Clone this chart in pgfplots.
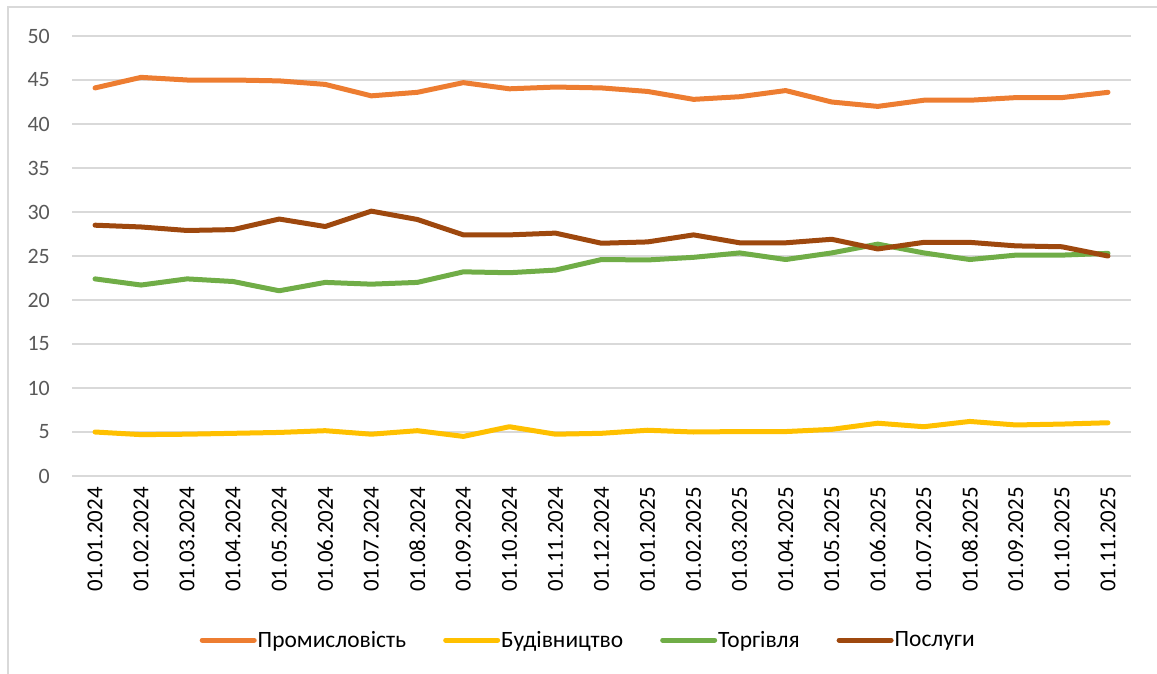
\documentclass[border=0pt]{standalone}
\usepackage{pgfplots}
\pgfplotsset{compat=1.18}
\usepackage{pgfplotstable}
\usepackage{fontspec}
\setmainfont{Carlito}
\definecolor{cOr}{HTML}{ED7D31}
\definecolor{cYe}{HTML}{FFC000}
\definecolor{cGr}{HTML}{70AD47}
\definecolor{cBr}{HTML}{9E480E}
\definecolor{cGrid}{HTML}{D9D9D9}
\definecolor{cTick}{HTML}{595959}

\pgfplotstableread{
x prom bud torg posl
0  44.1 5.0  22.4  28.5
1  45.3 4.7  21.7  28.3
2  45.0 4.75 22.4  27.9
3  45.0 4.85 22.1  28.0
4  44.9 4.95 21.05 29.2
5  44.5 5.15 22.0  28.35
6  43.2 4.75 21.8  30.1
7  43.6 5.15 22.0  29.15
8  44.7 4.5  23.2  27.4
9  44.0 5.6  23.1  27.4
10 44.2 4.75 23.4  27.6
11 44.1 4.85 24.6  26.45
12 43.7 5.2  24.55 26.6
13 42.8 5.0  24.85 27.4
14 43.1 5.05 25.35 26.5
15 43.8 5.05 24.6  26.5
16 42.5 5.3  25.35 26.9
17 42.0 6.0  26.35 25.8
18 42.7 5.6  25.35 26.55
19 42.7 6.2  24.6  26.55
20 43.0 5.8  25.1  26.15
21 43.0 5.9  25.1  26.05
22 43.6 6.05 25.3  25.0
}\datatable

\begin{document}
\begin{tikzpicture}
\useasboundingbox (-72bp,-198bp) rectangle (1085bp,476bp);
\draw[cGrid, line width=1.5bp] (-64bp,-198bp) -- (-64bp,469bp) -- (1085bp,469bp);
\begin{axis}[
  at={(0,0)}, anchor=south west,
  scale only axis,
  width=1059bp, height=440bp,
  xmin=-0.5, xmax=22.5,
  ymin=0, ymax=50,
  ytick={0,5,...,50},
  xtick={0,...,22},
  xticklabels={01.01.2024,01.02.2024,01.03.2024,01.04.2024,01.05.2024,01.06.2024,01.07.2024,01.08.2024,01.09.2024,01.10.2024,01.11.2024,01.12.2024,01.01.2025,01.02.2025,01.03.2025,01.04.2025,01.05.2025,01.06.2025,01.07.2025,01.08.2025,01.09.2025,01.10.2025,01.11.2025},
  axis line style={draw=none},
  major tick length=0pt,
  ymajorgrids,
  grid style={cGrid, line width=1.5bp},
  /pgf/number format/assume math mode=true,
  yticklabel style={font=\fontsize{22}{25}\selectfont, color=cTick, anchor=east, inner sep=0pt, xshift=-22bp},
  xticklabel style={font=\fontsize{23}{26}\selectfont, color=black, yshift=-11bp, rotate=90, anchor=east, inner sep=0pt},
  legend columns=4,
  legend style={draw=none, fill=none, at={(0.487,-0.373)}, anchor=center,
    font=\fontsize{23.5}{27}\selectfont,
    /tikz/every odd column/.append style={column sep=0bp},
    /tikz/every even column/.append style={column sep=36bp},
    nodes={inner sep=1bp}},
  legend image code/.code={\draw[line width=5bp, line cap=round] (0bp,0bp) -- (52bp,0bp);},
  every axis plot/.append style={line width=5bp, line join=round, line cap=round, no markers},
]
\addplot[cOr] table[x=x,y=prom]{\datatable};
\addlegendentry{Промисловість}
\addplot[cYe] table[x=x,y=bud]{\datatable};
\addlegendentry{Будівництво}
\addplot[cGr] table[x=x,y=torg]{\datatable};
\addlegendentry{Торгівля}
\addplot[cBr] table[x=x,y=posl]{\datatable};
\addlegendentry{Послуги}
\end{axis}
\end{tikzpicture}
\end{document}
